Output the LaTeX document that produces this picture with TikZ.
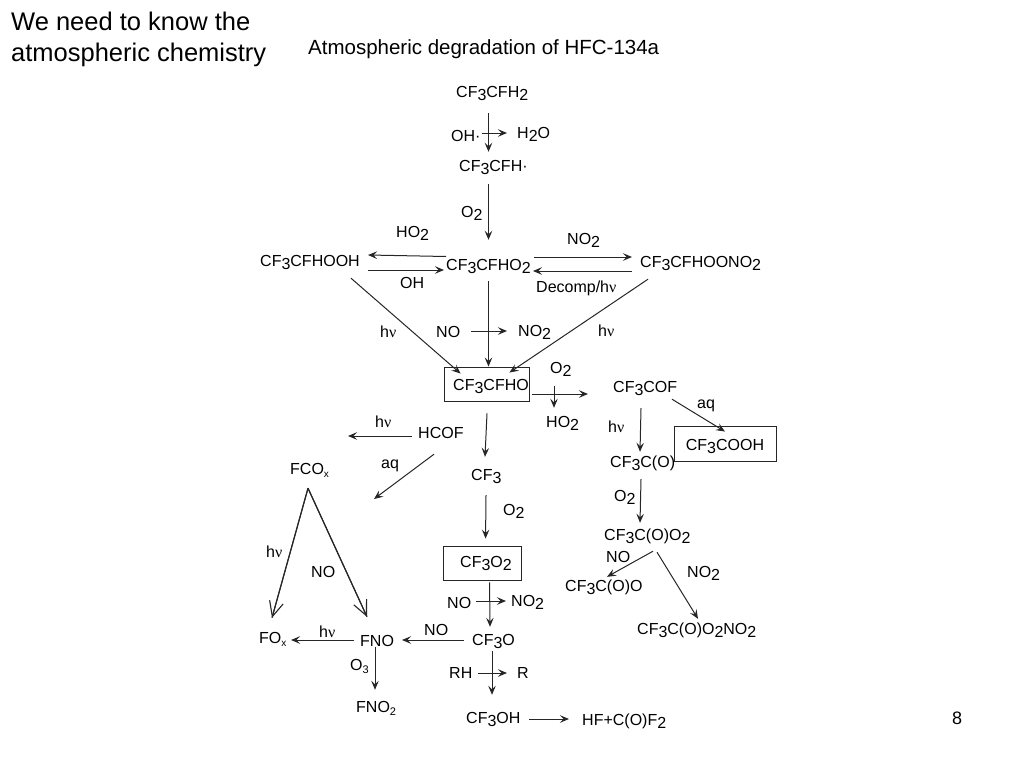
\documentclass[tikz,border=0pt]{standalone}
\usepackage{fontspec}
\setmainfont{Liberation Sans}
\newfontfamily\grk{Liberation Serif}
\usepackage{tikz}
\usetikzlibrary{arrows.meta}

\newcommand{\low}[1]{\raisebox{-3pt}{#1}}
\newcommand{\lowx}[1]{\raisebox{-3pt}{\fontsize{10}{10}\selectfont #1}}
\newcommand{\hv}{h{\grk ν}}

\tikzset{
  lbl/.style={inner sep=0pt, anchor=base west, text height=12pt, text depth=4pt, font=\fontsize{16}{19}\selectfont},
  boxed/.style={draw, line width=0.9pt, black!85, text=black, inner sep=0pt, font=\fontsize{16}{19}\selectfont},
  arr/.style={-{Stealth[length=9pt,width=7.5pt,inset=3.5pt]}, line width=1pt, black!85},
  bigarr/.style={-{Straight Barb[length=15pt,width=14pt]}, line width=1.1pt, black!85, postaction={draw,-}}
}

\begin{document}
\begin{tikzpicture}[x=1pt,y=-1pt]
    \useasboundingbox (0,0) rectangle (1024,768);

    % titles
    \node[inner sep=0pt, anchor=north west, align=left, font=\fontsize{25.5}{31}\selectfont] (title) at (11,11.5) {We need to know the\\atmospheric chemistry};
    \node[lbl, font=\fontsize{20.5}{22}\selectfont] (subtitle) at (308,55) {Atmospheric degradation of HFC-134a};
    \node[lbl, font=\fontsize{18}{20}\selectfont] (page) at (952,724) {8};

    % main chain
    \node[lbl] (cfhtwo) at (456,97) {CF\low{3}CFH\low{2}};
    \node[lbl] (ohrad) at (451,141) {OH·};
    \node[lbl] (htwoo) at (517,138) {H\low{2}O};
    \node[lbl] (cfh) at (459,171) {CF\low{3}CFH·};
    \node[lbl] (otwoa) at (461,217) {O\low{2}};
    \node[lbl] (hotwoa) at (396,237) {HO\low{2}};
    \node[lbl] (notwoa) at (567,244) {NO\low{2}};
    \node[lbl] (ooh) at (260,266) {CF\low{3}CFHOOH};
    \node[lbl] (rotwo) at (446,270) {CF\low{3}CFHO\low{2}};
    \node[lbl] (oono) at (640,267) {CF\low{3}CFHOONO\low{2}};
    \node[lbl] (ohb) at (400,288) {OH};
    \node[lbl] (decomp) at (536,292) {Decomp/\hv};
    \node[lbl] (hva) at (380,337) {\hv};
    \node[lbl] (noa) at (436,337) {NO};
    \node[lbl] (notwob) at (518,336) {NO\low{2}};
    \node[lbl] (hvb) at (598,336) {\hv};
    \node[boxed, minimum width=85pt, minimum height=34pt, text height=12pt, text depth=0pt] (cfho) at (486.5,384) {\hspace{9pt}CF\low{3}CFHO};

    % right branch
    \node[lbl] (otwob) at (550,373) {O\low{2}};
    \node[lbl] (hotwob) at (546,427) {HO\low{2}};
    \node[lbl] (cfcof) at (613,392) {CF\low{3}COF};
    \node[lbl] (aqa) at (697,408) {aq};
    \node[lbl] (hvc) at (608,432) {\hv};
    \node[boxed, minimum width=102pt, minimum height=35pt, text height=13pt, text depth=0pt] (cooh) at (725,443.5) {CF\low{3}COOH};
    \node[lbl] (cfco) at (610,467) {CF\low{3}C(O)};
    \node[lbl] (otwoc) at (614,501) {O\low{2}};
    \node[lbl] (cfcoo) at (604,540) {CF\low{3}C(O)O\low{2}};
    \node[lbl] (noc) at (606,562) {NO};
    \node[lbl] (notwod) at (687,577) {NO\low{2}};
    \node[lbl] (cfcooc) at (565,591) {CF\low{3}C(O)O};
    \node[lbl] (pan) at (637,634) {CF\low{3}C(O)O\low{2}NO\low{2}};

    % lower branch
    \node[lbl] (hvd) at (375,427) {\hv};
    \node[lbl] (hcof) at (418,438) {HCOF};
    \node[lbl] (aqb) at (381,468) {aq};
    \node[lbl] (fcox) at (290,474) {FCO\lowx{x}};
    \node[lbl] (cfthree) at (471,480) {CF\low{3}};
    \node[lbl] (otwod) at (503,515) {O\low{2}};
    \node[lbl] (hve) at (266,557) {\hv};
    \node[boxed, minimum width=78pt, minimum height=34pt, text height=12pt, text depth=4pt] (cfotwo) at (482,563) {\hspace{8pt}CF\low{3}O\low{2}};
    \node[lbl] (nob) at (447,608) {NO};
    \node[lbl] (notwoc) at (511,606) {NO\low{2}};
    \node[lbl] (nod) at (311,577) {NO};
    \node[lbl] (nox) at (424,635) {NO};
    \node[lbl] (hvf) at (319,637) {\hv};
    \node[lbl] (fox) at (259,643) {FO\lowx{x}};
    \node[lbl] (fno) at (360,646) {FNO};
    \node[lbl] (cfo) at (472,645) {CF\low{3}O};
    \node[lbl] (othree) at (350,670) {O\raisebox{-3pt}{\fontsize{11}{11}\selectfont 3}};
    \node[lbl] (rh) at (449,678) {RH};
    \node[lbl] (r) at (517,678) {R};
    \node[lbl] (fnotwo) at (356,712) {FNO\raisebox{-3pt}{\fontsize{11}{11}\selectfont 2}};
    \node[lbl] (cfoh) at (466,723) {CF\low{3}OH};
    \node[lbl] (hf) at (582,725) {HF+C(O)F\low{2}};

    % free ends
    \coordinate (hcofhv) at (348,436);
    \coordinate (hcofaq) at (374,499);

    % upper arrows
    \draw[arr] ([shift={(32.5,12)}]cfhtwo.south west) -- ([shift={(29.5,-7)}]cfh.north west);
    \draw[arr] ([shift={(31,-4)}]ohrad.west) -- ([shift={(-10,-1)}]htwoo.west);
    \draw[arr] ([shift={(29.5,9)}]cfh.south west) -- ([shift={(42.5,-18)}]rotwo.north west);
    \draw[arr] ([shift={(0,-9.5)}]rotwo.west) -- ([shift={(108,-7)}]ooh.west);
    \draw[arr] ([shift={(108,8)}]ooh.west) -- ([shift={(-2,4)}]rotwo.west);
    \draw[arr] ([shift={(88,-9)}]rotwo.west) -- ([shift={(-8,-6)}]oono.west);
    \draw[arr] ([shift={(-8,8)}]oono.west) -- ([shift={(87,5)}]rotwo.west);
    \draw[arr] ([shift={(42.5,7)}]rotwo.south west) -- ([shift={(2,0)}]cfho.north);
    \draw[arr] ([shift={(91,8)}]ooh.south west) -- ([shift={(17,7)}]cfho.north west);
    \draw[arr] ([shift={(8,8)}]oono.south west) -- ([shift={(-20,6)}]cfho.north east);
    \draw[arr] ([shift={(35,-2)}]noa.west) -- ([shift={(-11,-1)}]notwob.west);

    % right arrows
    \draw[arr] ([shift={(3,10)}]cfho.east) -- ([shift={(-25,6)}]cfcof.west);
    \draw[arr] ([shift={(4,9)}]otwob.south west) -- ([shift={(8,-7)}]hotwob.north west);
    \draw[arr] ([shift={(59,3)}]cfcof.south west) -- ([shift={(0,6)}]cooh.north);
    \draw[arr] ([shift={(28,12)}]cfcof.south west) -- ([shift={(30,-3)}]cfco.north west);
    \draw[arr] ([shift={(31,8)}]cfco.south west) -- ([shift={(36,-5)}]cfcoo.north west);
    \draw[arr] ([shift={(49,7)}]cfcoo.south west) -- ([shift={(42,-2)}]cfcooc.north west);
    \draw[arr] ([shift={(53,8)}]cfcoo.south west) -- ([shift={(61,-3)}]pan.north west);

    % lower arrows
    \draw[arr] ([shift={(0.5,12)}]cfho.south) -- ([shift={(14,-11)}]cfthree.north west);
    \draw[arr] ([shift={(-6,2)}]hcof.west) -- (hcofhv);
    \draw[arr] ([shift={(16,12)}]hcof.south west) -- (hcofaq);
    \draw[arr] ([shift={(15,11)}]cfthree.south west) -- ([shift={(43,-7)}]cfotwo.north west);
    \draw[arr] ([shift={(47,2)}]cfotwo.south west) -- ([shift={(18,-6)}]cfo.north west);
    \draw[arr] ([shift={(29,-3)}]nob.west) -- ([shift={(-5,-1)}]notwoc.west);
    \draw[arr] ([shift={(-8,-1)}]cfo.west) -- ([shift={(42,-2)}]fno.west);
    \draw[arr] ([shift={(-6,-2)}]fno.west) -- ([shift={(32,1)}]fox.west);
    \draw[bigarr] ([shift={(18,10)}]fcox.south west) -- ([shift={(13,-13)}]fox.north west);
    \draw[bigarr] ([shift={(18,10)}]fcox.south west) -- ([shift={(7,-17)}]fno.north west);
    \draw[arr] ([shift={(15,-3)}]fno.south west) -- ([shift={(19,-10)}]fnotwo.north west);
    \draw[arr] ([shift={(20,2)}]cfo.south west) -- ([shift={(26,-16)}]cfoh.north west);
    \draw[arr] ([shift={(29,-1)}]rh.west) -- ([shift={(-10,-1)}]r.west);
    \draw[arr] ([shift={(63,0)}]cfoh.west) -- ([shift={(-13,-2)}]hf.west);
\end{tikzpicture}
\end{document}
